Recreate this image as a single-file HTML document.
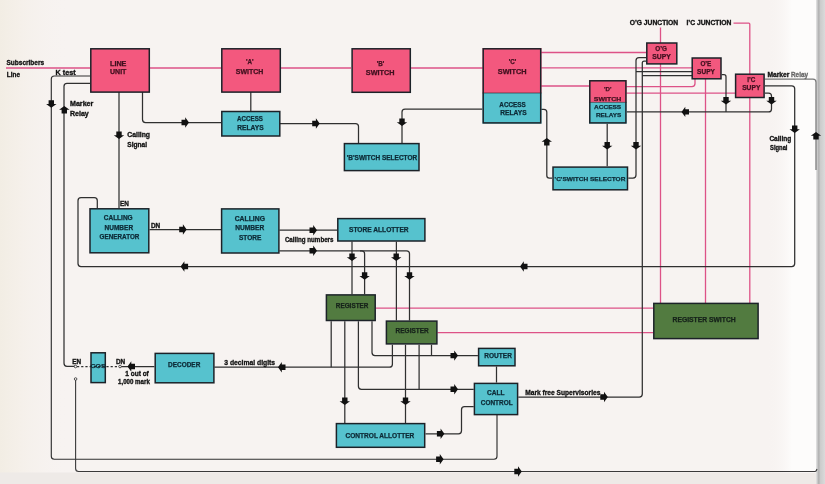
<!DOCTYPE html>
<html><head><meta charset="utf-8">
<style>
html,body{margin:0;padding:0;width:825px;height:484px;overflow:hidden;background:#f7f3f1}
svg{display:block;font-family:"Liberation Sans",sans-serif;will-change:transform}
</style></head><body>
<svg width="825" height="484" viewBox="0 0 825 484">
<defs>
<linearGradient id="edge" x1="0" y1="0" x2="1" y2="0">
<stop offset="0" stop-color="#f7f3f1" stop-opacity="0"/><stop offset="1" stop-color="#fdfcfb"/>
</linearGradient>
<linearGradient id="ledge" x1="0" y1="0" x2="1" y2="0">
<stop offset="0" stop-color="#f2ede4"/><stop offset="0.3" stop-color="#f5f0ea"/><stop offset="1" stop-color="#f7f3f1" stop-opacity="0"/>
</linearGradient>
<linearGradient id="shade" x1="0" y1="0" x2="1" y2="0">
<stop offset="0" stop-color="#e6e6e6"/><stop offset="0.3" stop-color="#b0b0b0"/><stop offset="0.5" stop-color="#cccccc"/><stop offset="1" stop-color="#dadada"/>
</linearGradient>
<path id="arr" d="M-7.5,-2.7 L-3.8,-2.7 L-3.8,-5.2 L0,0 L-3.8,5.2 L-3.8,2.7 L-7.5,2.7 Z" fill="#111"/>
</defs>
<rect width="825" height="484" fill="#f7f3f1"/>
<rect x="0" y="0" width="70" height="484" fill="url(#ledge)"/>
<rect x="0" y="472.5" width="817" height="11.5" fill="#eeeae7"/>
<rect x="768" y="0" width="24" height="472.5" fill="url(#edge)"/>
<rect x="791.5" y="0" width="27" height="472.5" fill="#fdfcfb"/>
<rect x="816" y="0" width="9" height="484" fill="url(#shade)"/>
<path d="M6.0,68.0 L90.0,68.0" stroke="#dd5287" stroke-width="1.30" fill="none" opacity="1.00"/>
<path d="M150.0,68.0 L221.0,68.0" stroke="#dd5287" stroke-width="1.30" fill="none" opacity="1.00"/>
<path d="M281.0,68.0 L351.0,68.0" stroke="#dd5287" stroke-width="1.30" fill="none" opacity="1.00"/>
<path d="M411.0,68.0 L483.0,68.0" stroke="#dd5287" stroke-width="1.30" fill="none" opacity="1.00"/>
<path d="M541.0,52.5 L646.0,52.5" stroke="#dd5287" stroke-width="1.30" fill="none" opacity="1.00"/>
<path d="M541.0,67.8 L692.0,67.8" stroke="#dd5287" stroke-width="1.30" fill="none" opacity="1.00"/>
<path d="M541.0,86.0 L589.0,86.0" stroke="#dd5287" stroke-width="1.30" fill="none" opacity="1.00"/>
<path d="M626.0,86.6 L692.0,86.6 Q695.0,86.6 695.0,83.6 L695.0,79.0" stroke="#dd5287" stroke-width="1.30" fill="none" opacity="1.00"/>
<path d="M626.0,93.2 L735.0,93.2" stroke="#dd5287" stroke-width="1.30" fill="none" opacity="1.00"/>
<path d="M660.5,27.5 L660.5,303.0" stroke="#dd5287" stroke-width="1.30" fill="none" opacity="1.00"/>
<path d="M705.5,79.0 L705.5,303.0" stroke="#dd5287" stroke-width="1.30" fill="none" opacity="1.00"/>
<path d="M733.5,23.2 L748.8,23.2 Q749.8,23.2 749.8,24.2 L749.8,303.0" stroke="#dd5287" stroke-width="1.30" fill="none" opacity="1.00"/>
<path d="M376.0,308.2 L653.0,308.2" stroke="#dd5287" stroke-width="1.30" fill="none" opacity="1.00"/>
<path d="M437.5,332.6 L653.0,332.6" stroke="#dd5287" stroke-width="1.30" fill="none" opacity="1.00"/>
<path d="M90.0,76.0 L54.3,76.0 Q51.3,76.0 51.3,79.0 L51.3,456.2 Q51.3,459.2 54.3,459.2 L494.0,459.2 Q497.0,459.2 497.0,456.2 L497.0,415.0" stroke="#303030" stroke-width="1.15" fill="none" opacity="1.00"/>
<path d="M90.0,83.3 L67.0,83.3 Q64.0,83.3 64.0,86.3 L64.0,363.3 Q64.0,366.3 67.0,366.3 L75.0,366.3" stroke="#303030" stroke-width="1.25" fill="none" opacity="1.00"/>
<path d="M119.0,92.0 L119.0,208.0" stroke="#303030" stroke-width="1.25" fill="none" opacity="1.00"/>
<path d="M142.5,92.0 L142.5,119.5 Q142.5,122.5 145.5,122.5 L221.0,122.5" stroke="#303030" stroke-width="1.25" fill="none" opacity="1.00"/>
<path d="M250.8,92.0 L250.8,111.0" stroke="#303030" stroke-width="1.25" fill="none" opacity="1.00"/>
<path d="M280.0,123.5 L355.5,123.5 Q358.5,123.5 358.5,126.5 L358.5,143.0" stroke="#303030" stroke-width="1.25" fill="none" opacity="1.00"/>
<path d="M482.5,109.0 L405.0,109.0 Q402.0,109.0 402.0,112.0 L402.0,143.0" stroke="#303030" stroke-width="1.25" fill="none" opacity="1.00"/>
<path d="M541.0,109.3 L543.9,109.3 Q546.8,109.3 546.8,112.2 L546.8,175.4 Q546.8,178.0 549.4,178.0 L552.0,178.0" stroke="#303030" stroke-width="1.25" fill="none" opacity="1.00"/>
<path d="M607.2,123.5 L607.2,166.3" stroke="#303030" stroke-width="1.25" fill="none" opacity="1.00"/>
<path d="M646.0,57.5 L639.0,57.5 Q636.0,57.5 636.0,60.5 L636.0,175.0 Q636.0,178.0 633.0,178.0 L628.3,178.0" stroke="#303030" stroke-width="1.25" fill="none" opacity="1.00"/>
<path d="M646.0,61.0 L644.1,61.0 Q642.3,61.0 642.3,62.9 L642.3,394.0 Q642.3,397.0 639.3,397.0 L518.3,397.0" stroke="#303030" stroke-width="1.25" fill="none" opacity="1.00"/>
<path d="M636.0,71.7 L692.0,71.7" stroke="#303030" stroke-width="1.25" fill="none" opacity="1.00"/>
<path d="M642.3,75.7 L692.0,75.7" stroke="#303030" stroke-width="1.25" fill="none" opacity="1.00"/>
<path d="M721.7,74.7 L723.9,74.7 Q726.0,74.7 726.0,76.8 L726.0,111.9" stroke="#303030" stroke-width="1.25" fill="none" opacity="1.00"/>
<path d="M626.6,111.9 L768.5,111.9 Q771.5,111.9 771.5,108.9 L771.5,96.0 Q771.5,93.0 768.5,93.0 L765.0,93.0" stroke="#303030" stroke-width="1.25" fill="none" opacity="1.00"/>
<path d="M765.0,85.8 L791.7,85.8 Q794.7,85.8 794.7,88.8 L794.7,263.5 Q794.7,266.5 791.7,266.5 L81.0,266.5 Q78.0,266.5 78.0,263.5 L78.0,200.7 Q78.0,197.7 81.0,197.7 L94.3,197.7 Q97.3,197.7 97.3,200.7 L97.3,208.0" stroke="#303030" stroke-width="1.25" fill="none" opacity="1.00"/>
<path d="M765.0,79.2 L813.0,79.2 Q816.0,79.2 816.0,82.2 L816.0,170.0" stroke="#777777" stroke-width="1.25" fill="none" opacity="1.00"/>
<path d="M149.5,229.5 L221.0,229.5" stroke="#303030" stroke-width="1.25" fill="none" opacity="1.00"/>
<path d="M279.4,230.2 L337.0,230.2" stroke="#303030" stroke-width="1.25" fill="none" opacity="1.00"/>
<path d="M279.4,250.8 L361.6,250.8 Q364.6,250.8 364.6,253.8 L364.6,294.2" stroke="#303030" stroke-width="1.25" fill="none" opacity="1.00"/>
<path d="M360.0,250.8 L406.5,250.8 Q409.5,250.8 409.5,253.8 L409.5,320.4" stroke="#303030" stroke-width="1.25" fill="none" opacity="1.00"/>
<path d="M352.0,241.6 L352.0,294.2" stroke="#303030" stroke-width="1.25" fill="none" opacity="1.00"/>
<path d="M396.4,241.6 L396.4,320.4" stroke="#303030" stroke-width="1.25" fill="none" opacity="1.00"/>
<path d="M331.2,321.2 L331.2,367.2" stroke="#303030" stroke-width="1.25" fill="none" opacity="1.00"/>
<path d="M344.8,321.2 L344.8,423.0" stroke="#303030" stroke-width="1.25" fill="none" opacity="1.00"/>
<path d="M358.4,321.2 L358.4,386.3 Q358.4,389.3 361.4,389.3 L473.7,389.3" stroke="#303030" stroke-width="1.25" fill="none" opacity="1.00"/>
<path d="M372.0,321.2 L372.0,352.6 Q372.0,355.6 375.0,355.6 L477.9,355.6" stroke="#303030" stroke-width="1.25" fill="none" opacity="1.00"/>
<path d="M392.4,344.7 L392.4,364.2 Q392.4,367.2 389.4,367.2 L214.4,367.2" stroke="#303030" stroke-width="1.25" fill="none" opacity="1.00"/>
<path d="M405.5,344.7 L405.5,423.0" stroke="#303030" stroke-width="1.25" fill="none" opacity="1.00"/>
<path d="M419.1,344.7 L419.1,389.3" stroke="#303030" stroke-width="1.25" fill="none" opacity="1.00"/>
<path d="M431.5,344.7 L431.5,355.6" stroke="#303030" stroke-width="1.25" fill="none" opacity="1.00"/>
<path d="M496.5,366.5 L496.5,382.6" stroke="#303030" stroke-width="1.25" fill="none" opacity="1.00"/>
<path d="M425.5,433.8 L458.5,433.8 Q461.5,433.8 461.5,430.8 L461.5,409.7 Q461.5,406.7 464.5,406.7 L473.7,406.7" stroke="#303030" stroke-width="1.25" fill="none" opacity="1.00"/>
<path d="M75.6,379.0 L75.6,468.5 Q75.6,471.5 78.6,471.5 L814.7,471.5 Q816.0,471.5 816.5,470.2 L817.0,469.0" stroke="#3a3a3a" stroke-width="1.10" fill="none" opacity="1.00"/>
<path d="M120.0,366.5 L154.4,366.5" stroke="#303030" stroke-width="1.25" fill="none" opacity="1.00"/>
<rect x="90.8" y="48.8" width="58.5" height="43.3" fill="#f3587e" stroke="#1c2228" stroke-width="1.5"/>
<rect x="221.8" y="48.8" width="58.5" height="43.3" fill="#f3587e" stroke="#1c2228" stroke-width="1.5"/>
<rect x="221.8" y="111.5" width="58.0" height="24.5" fill="#56c2ce" stroke="#1c2228" stroke-width="1.5"/>
<rect x="352.1" y="48.8" width="58.2" height="43.5" fill="#f3587e" stroke="#1c2228" stroke-width="1.5"/>
<rect x="482.5" y="48.0" width="59.0" height="45.0" fill="#f3587e"/>
<rect x="482.5" y="93.0" width="59.0" height="30.6" fill="#56c2ce"/>
<path d="M482.5,93.0 H541.5" stroke="#1c2228" stroke-width="1" opacity="0.6"/>
<rect x="483.2" y="48.8" width="57.5" height="74.1" fill="none" stroke="#1c2228" stroke-width="1.5"/>
<rect x="344.4" y="143.6" width="74.6" height="27.0" fill="#56c2ce" stroke="#1c2228" stroke-width="1.5"/>
<rect x="646.8" y="43.0" width="30.0" height="20.9" fill="#f3587e" stroke="#1c2228" stroke-width="1.5"/>
<rect x="692.2" y="58.0" width="28.8" height="20.8" fill="#f3587e" stroke="#1c2228" stroke-width="1.5"/>
<rect x="735.6" y="74.2" width="28.5" height="23.3" fill="#f3587e" stroke="#1c2228" stroke-width="1.5"/>
<rect x="589.0" y="80.0" width="37.6" height="22.4" fill="#f3587e"/>
<rect x="589.0" y="102.4" width="37.6" height="21.2" fill="#56c2ce"/>
<path d="M589.0,102.4 H626.6" stroke="#1c2228" stroke-width="1" opacity="0.6"/>
<rect x="589.8" y="80.8" width="36.1" height="42.1" fill="none" stroke="#1c2228" stroke-width="1.5"/>
<rect x="553.0" y="167.1" width="74.5" height="22.7" fill="#56c2ce" stroke="#1c2228" stroke-width="1.5"/>
<rect x="90.0" y="208.8" width="58.8" height="44.0" fill="#56c2ce" stroke="#1c2228" stroke-width="1.5"/>
<rect x="221.6" y="208.9" width="57.3" height="44.1" fill="#56c2ce" stroke="#1c2228" stroke-width="1.5"/>
<rect x="337.8" y="218.6" width="87.1" height="22.4" fill="#56c2ce" stroke="#1c2228" stroke-width="1.5"/>
<rect x="326.4" y="294.9" width="48.8" height="25.6" fill="#527b40" stroke="#1c2228" stroke-width="1.5"/>
<rect x="386.4" y="321.1" width="50.5" height="22.8" fill="#527b40" stroke="#1c2228" stroke-width="1.5"/>
<rect x="653.8" y="303.4" width="104.3" height="35.2" fill="#527b40" stroke="#1c2228" stroke-width="1.5"/>
<rect x="91.0" y="352.8" width="14.3" height="29.8" fill="#56c2ce" stroke="#1c2228" stroke-width="1.5"/>
<path d="M77,366.6 L118.5,366.6" stroke="#303030" stroke-width="1.2" stroke-dasharray="2.2,2" fill="none"/>
<rect x="155.2" y="353.4" width="58.7" height="29.4" fill="#56c2ce" stroke="#1c2228" stroke-width="1.5"/>
<rect x="478.6" y="348.4" width="36.4" height="17.4" fill="#56c2ce" stroke="#1c2228" stroke-width="1.5"/>
<rect x="474.4" y="383.4" width="43.2" height="31.2" fill="#56c2ce" stroke="#1c2228" stroke-width="1.5"/>
<rect x="336.4" y="423.6" width="88.3" height="23.7" fill="#56c2ce" stroke="#1c2228" stroke-width="1.5"/>
<use href="#arr" transform="translate(51.3,107.7) rotate(90)"/>
<use href="#arr" transform="translate(64.3,106.0) rotate(270)"/>
<use href="#arr" transform="translate(119.0,139.0) rotate(90)"/>
<use href="#arr" transform="translate(189.0,122.5) rotate(0)"/>
<use href="#arr" transform="translate(319.7,123.5) rotate(0)"/>
<use href="#arr" transform="translate(402.0,126.0) rotate(90)"/>
<use href="#arr" transform="translate(546.8,138.0) rotate(270)"/>
<use href="#arr" transform="translate(607.2,149.5) rotate(90)"/>
<use href="#arr" transform="translate(636.0,149.5) rotate(90)"/>
<use href="#arr" transform="translate(681.5,111.9) rotate(180)"/>
<use href="#arr" transform="translate(726.0,104.5) rotate(90)"/>
<use href="#arr" transform="translate(771.5,104.5) rotate(90)"/>
<use href="#arr" transform="translate(794.7,133.0) rotate(90)"/>
<use href="#arr" transform="translate(816.0,132.0) rotate(270)"/>
<use href="#arr" transform="translate(186.7,229.5) rotate(0)"/>
<use href="#arr" transform="translate(180.6,266.5) rotate(180)"/>
<use href="#arr" transform="translate(520.0,266.5) rotate(180)"/>
<use href="#arr" transform="translate(317.0,230.2) rotate(0)"/>
<use href="#arr" transform="translate(317.0,250.8) rotate(0)"/>
<use href="#arr" transform="translate(352.0,261.0) rotate(90)"/>
<use href="#arr" transform="translate(396.2,261.0) rotate(90)"/>
<use href="#arr" transform="translate(364.6,279.8) rotate(90)"/>
<use href="#arr" transform="translate(409.5,279.8) rotate(90)"/>
<use href="#arr" transform="translate(278.0,367.2) rotate(180)"/>
<use href="#arr" transform="translate(458.0,355.6) rotate(0)"/>
<use href="#arr" transform="translate(458.0,389.3) rotate(0)"/>
<use href="#arr" transform="translate(344.8,405.0) rotate(90)"/>
<use href="#arr" transform="translate(405.5,405.0) rotate(90)"/>
<use href="#arr" transform="translate(444.4,433.8) rotate(0)"/>
<use href="#arr" transform="translate(443.6,459.2) rotate(0)"/>
<use href="#arr" transform="translate(521.8,471.5) rotate(0)"/>
<use href="#arr" transform="translate(607.8,397.0) rotate(0)"/>
<use href="#arr" transform="translate(127.5,366.5) rotate(180)"/>
<text x="118.2" y="65.5" font-size="6.27" text-anchor="middle" font-weight="bold" fill="#42101f" stroke="#42101f" stroke-width="0.25" opacity="1.00" textLength="16.4" lengthAdjust="spacingAndGlyphs">LINE</text>
<text x="118.2" y="74.3" font-size="6.27" text-anchor="middle" font-weight="bold" fill="#42101f" stroke="#42101f" stroke-width="0.25" opacity="1.00" textLength="16.4" lengthAdjust="spacingAndGlyphs">UNIT</text>
<text x="249.8" y="64.3" font-size="6.27" text-anchor="middle" font-weight="bold" fill="#42101f" stroke="#42101f" stroke-width="0.25" opacity="1.00">'A'</text>
<text x="249.6" y="73.9" font-size="6.27" text-anchor="middle" font-weight="bold" fill="#42101f" stroke="#42101f" stroke-width="0.25" opacity="1.00" textLength="27.6" lengthAdjust="spacingAndGlyphs">SWITCH</text>
<text x="250.0" y="120.8" font-size="6.27" text-anchor="middle" font-weight="bold" fill="#0d2a36" stroke="#0d2a36" stroke-width="0.25" opacity="1.00" textLength="25.8" lengthAdjust="spacingAndGlyphs">ACCESS</text>
<text x="250.5" y="130.0" font-size="6.27" text-anchor="middle" font-weight="bold" fill="#0d2a36" stroke="#0d2a36" stroke-width="0.25" opacity="1.00" textLength="26.4" lengthAdjust="spacingAndGlyphs">RELAYS</text>
<text x="380.4" y="65.9" font-size="6.27" text-anchor="middle" font-weight="bold" fill="#42101f" stroke="#42101f" stroke-width="0.25" opacity="1.00">'B'</text>
<text x="380.1" y="75.2" font-size="6.27" text-anchor="middle" font-weight="bold" fill="#42101f" stroke="#42101f" stroke-width="0.25" opacity="1.00" textLength="28.6" lengthAdjust="spacingAndGlyphs">SWITCH</text>
<text x="512.5" y="63.8" font-size="6.27" text-anchor="middle" font-weight="bold" fill="#42101f" stroke="#42101f" stroke-width="0.25" opacity="1.00">'C'</text>
<text x="512.2" y="73.7" font-size="6.27" text-anchor="middle" font-weight="bold" fill="#42101f" stroke="#42101f" stroke-width="0.25" opacity="1.00" textLength="28.9" lengthAdjust="spacingAndGlyphs">SWITCH</text>
<text x="512.6" y="106.5" font-size="6.27" text-anchor="middle" font-weight="bold" fill="#0d2a36" stroke="#0d2a36" stroke-width="0.25" opacity="1.00" textLength="26.5" lengthAdjust="spacingAndGlyphs">ACCESS</text>
<text x="513.5" y="115.4" font-size="6.27" text-anchor="middle" font-weight="bold" fill="#0d2a36" stroke="#0d2a36" stroke-width="0.25" opacity="1.00" textLength="26.4" lengthAdjust="spacingAndGlyphs">RELAYS</text>
<text x="382.0" y="159.8" font-size="6.27" text-anchor="middle" font-weight="bold" fill="#0d2a36" stroke="#0d2a36" stroke-width="0.25" opacity="1.00" textLength="70.4" lengthAdjust="spacingAndGlyphs">'B'SWITCH  SELECTOR</text>
<text x="661.2" y="50.5" font-size="6.37" text-anchor="middle" font-weight="bold" fill="#42101f" stroke="#42101f" stroke-width="0.25" opacity="1.00">O’G</text>
<text x="661.6" y="58.8" font-size="6.37" text-anchor="middle" font-weight="bold" fill="#42101f" stroke="#42101f" stroke-width="0.25" opacity="1.00" textLength="18.6" lengthAdjust="spacingAndGlyphs">SUPY</text>
<text x="705.9" y="65.5" font-size="6.37" text-anchor="middle" font-weight="bold" fill="#42101f" stroke="#42101f" stroke-width="0.25" opacity="1.00">O’E</text>
<text x="706.0" y="73.5" font-size="6.37" text-anchor="middle" font-weight="bold" fill="#42101f" stroke="#42101f" stroke-width="0.25" opacity="1.00" textLength="17.8" lengthAdjust="spacingAndGlyphs">SUPY</text>
<text x="751.3" y="81.9" font-size="6.37" text-anchor="middle" font-weight="bold" fill="#42101f" stroke="#42101f" stroke-width="0.25" opacity="1.00">I’C</text>
<text x="751.3" y="90.2" font-size="6.37" text-anchor="middle" font-weight="bold" fill="#42101f" stroke="#42101f" stroke-width="0.25" opacity="1.00" textLength="18.3" lengthAdjust="spacingAndGlyphs">SUPY</text>
<text x="607.8" y="90.7" font-size="6.17" text-anchor="middle" font-weight="bold" fill="#42101f" stroke="#42101f" stroke-width="0.25" opacity="1.00">'D'</text>
<text x="607.5" y="100.7" font-size="6.17" text-anchor="middle" font-weight="bold" fill="#42101f" stroke="#42101f" stroke-width="0.25" opacity="1.00" textLength="27.4" lengthAdjust="spacingAndGlyphs">SWITCH</text>
<text x="607.6" y="109.3" font-size="6.17" text-anchor="middle" font-weight="bold" fill="#0d2a36" stroke="#0d2a36" stroke-width="0.25" opacity="1.00" textLength="27.2" lengthAdjust="spacingAndGlyphs">ACCESS</text>
<text x="608.6" y="116.7" font-size="6.17" text-anchor="middle" font-weight="bold" fill="#0d2a36" stroke="#0d2a36" stroke-width="0.25" opacity="1.00" textLength="25.3" lengthAdjust="spacingAndGlyphs">RELAYS</text>
<text x="590.0" y="180.7" font-size="6.08" text-anchor="middle" font-weight="bold" fill="#0d2a36" stroke="#0d2a36" stroke-width="0.25" opacity="1.00" textLength="70.8" lengthAdjust="spacingAndGlyphs">'C'SWITCH SELECTOR</text>
<text x="118.2" y="220.2" font-size="6.27" text-anchor="middle" font-weight="bold" fill="#0d2a36" stroke="#0d2a36" stroke-width="0.25" opacity="1.00" textLength="28.9" lengthAdjust="spacingAndGlyphs">CALLING</text>
<text x="118.8" y="229.9" font-size="6.27" text-anchor="middle" font-weight="bold" fill="#0d2a36" stroke="#0d2a36" stroke-width="0.25" opacity="1.00" textLength="28.6" lengthAdjust="spacingAndGlyphs">NUMBER</text>
<text x="119.5" y="239.1" font-size="6.27" text-anchor="middle" font-weight="bold" fill="#0d2a36" stroke="#0d2a36" stroke-width="0.25" opacity="1.00" textLength="39.8" lengthAdjust="spacingAndGlyphs">GENERATOR</text>
<text x="249.8" y="220.7" font-size="6.27" text-anchor="middle" font-weight="bold" fill="#0d2a36" stroke="#0d2a36" stroke-width="0.25" opacity="1.00" textLength="30.3" lengthAdjust="spacingAndGlyphs">CALLING</text>
<text x="249.7" y="229.8" font-size="6.27" text-anchor="middle" font-weight="bold" fill="#0d2a36" stroke="#0d2a36" stroke-width="0.25" opacity="1.00" textLength="29.1" lengthAdjust="spacingAndGlyphs">NUMBER</text>
<text x="250.2" y="239.9" font-size="6.27" text-anchor="middle" font-weight="bold" fill="#0d2a36" stroke="#0d2a36" stroke-width="0.25" opacity="1.00" textLength="22.4" lengthAdjust="spacingAndGlyphs">STORE</text>
<text x="378.8" y="232.3" font-size="6.27" text-anchor="middle" font-weight="bold" fill="#0d2a36" stroke="#0d2a36" stroke-width="0.25" opacity="1.00" textLength="59.6" lengthAdjust="spacingAndGlyphs">STORE  ALLOTTER</text>
<text x="352.1" y="307.6" font-size="6.27" text-anchor="middle" font-weight="bold" fill="#16221a" stroke="#16221a" stroke-width="0.25" opacity="1.00" textLength="32.5" lengthAdjust="spacingAndGlyphs">REGISTER</text>
<text x="412.2" y="333.0" font-size="6.27" text-anchor="middle" font-weight="bold" fill="#16221a" stroke="#16221a" stroke-width="0.25" opacity="1.00" textLength="33.2" lengthAdjust="spacingAndGlyphs">REGISTER</text>
<text x="704.1" y="322.0" font-size="6.27" text-anchor="middle" font-weight="bold" fill="#16221a" stroke="#16221a" stroke-width="0.25" opacity="1.00" textLength="63.1" lengthAdjust="spacingAndGlyphs">REGISTER  SWITCH</text>
<text x="98.0" y="368.1" font-size="5.88" text-anchor="middle" font-weight="bold" fill="#0d2a36" stroke="#0d2a36" stroke-width="0.25" opacity="1.00" textLength="15.0" lengthAdjust="spacingAndGlyphs">COS</text>
<text x="184.2" y="367.3" font-size="6.27" text-anchor="middle" font-weight="bold" fill="#0d2a36" stroke="#0d2a36" stroke-width="0.25" opacity="1.00" textLength="32.3" lengthAdjust="spacingAndGlyphs">DECODER</text>
<text x="498.1" y="358.2" font-size="6.27" text-anchor="middle" font-weight="bold" fill="#0d2a36" stroke="#0d2a36" stroke-width="0.25" opacity="1.00" textLength="27.6" lengthAdjust="spacingAndGlyphs">ROUTER</text>
<text x="495.8" y="394.6" font-size="6.27" text-anchor="middle" font-weight="bold" fill="#0d2a36" stroke="#0d2a36" stroke-width="0.25" opacity="1.00" textLength="17.5" lengthAdjust="spacingAndGlyphs">CALL</text>
<text x="496.7" y="404.7" font-size="6.27" text-anchor="middle" font-weight="bold" fill="#0d2a36" stroke="#0d2a36" stroke-width="0.25" opacity="1.00" textLength="31.8" lengthAdjust="spacingAndGlyphs">CONTROL</text>
<text x="379.9" y="438.3" font-size="6.27" text-anchor="middle" font-weight="bold" fill="#0d2a36" stroke="#0d2a36" stroke-width="0.25" opacity="1.00" textLength="68.8" lengthAdjust="spacingAndGlyphs">CONTROL  ALLOTTER</text>
<text x="6.5" y="65.0" font-size="6.40" text-anchor="start" font-weight="bold" fill="#111111" stroke="#111111" stroke-width="0.30" opacity="1.00" textLength="37.6" lengthAdjust="spacingAndGlyphs">Subscribers</text>
<text x="6.8" y="76.8" font-size="6.40" text-anchor="start" font-weight="bold" fill="#111111" stroke="#111111" stroke-width="0.30" opacity="1.00">Line</text>
<text x="55.6" y="74.8" font-size="6.40" text-anchor="start" font-weight="bold" fill="#111111" stroke="#111111" stroke-width="0.30" opacity="1.00" textLength="20.0" lengthAdjust="spacingAndGlyphs">K  test</text>
<text x="70.0" y="106.3" font-size="6.40" text-anchor="start" font-weight="bold" fill="#111111" stroke="#111111" stroke-width="0.30" opacity="1.00" textLength="23.3" lengthAdjust="spacingAndGlyphs">Marker</text>
<text x="70.0" y="115.6" font-size="6.40" text-anchor="start" font-weight="bold" fill="#111111" stroke="#111111" stroke-width="0.30" opacity="1.00" textLength="18.8" lengthAdjust="spacingAndGlyphs">Relay</text>
<text x="127.3" y="137.3" font-size="6.40" text-anchor="start" font-weight="bold" fill="#111111" stroke="#111111" stroke-width="0.30" opacity="1.00" textLength="22.7" lengthAdjust="spacingAndGlyphs">Calling</text>
<text x="127.3" y="147.3" font-size="6.40" text-anchor="start" font-weight="bold" fill="#111111" stroke="#111111" stroke-width="0.30" opacity="1.00" textLength="19.8" lengthAdjust="spacingAndGlyphs">Signal</text>
<text x="120.0" y="205.6" font-size="6.40" text-anchor="start" font-weight="bold" fill="#111111" stroke="#111111" stroke-width="0.30" opacity="1.00">EN</text>
<text x="151.0" y="227.5" font-size="6.40" text-anchor="start" font-weight="bold" fill="#111111" stroke="#111111" stroke-width="0.30" opacity="1.00">DN</text>
<text x="284.9" y="242.4" font-size="6.40" text-anchor="start" font-weight="bold" fill="#111111" stroke="#111111" stroke-width="0.30" opacity="1.00" textLength="48.6" lengthAdjust="spacingAndGlyphs">Calling numbers</text>
<text x="629.7" y="25.3" font-size="6.40" text-anchor="start" font-weight="bold" fill="#111111" stroke="#111111" stroke-width="0.30" opacity="1.00" textLength="48.5" lengthAdjust="spacingAndGlyphs">O’G JUNCTION</text>
<text x="686.5" y="25.3" font-size="6.40" text-anchor="start" font-weight="bold" fill="#111111" stroke="#111111" stroke-width="0.30" opacity="1.00" textLength="44.9" lengthAdjust="spacingAndGlyphs">I’C JUNCTION</text>
<text x="767.4" y="76.8" font-size="6.40" text-anchor="start" font-weight="bold" fill="#111111" stroke="#111111" stroke-width="0.30" opacity="1.00" textLength="22.0" lengthAdjust="spacingAndGlyphs">Marker</text>
<text x="791.0" y="76.8" font-size="6.40" text-anchor="start" font-weight="bold" fill="#666" stroke="#666" stroke-width="0.30" opacity="1.00" textLength="17.0" lengthAdjust="spacingAndGlyphs">Relay</text>
<text x="769.4" y="141.3" font-size="6.40" text-anchor="start" font-weight="bold" fill="#111111" stroke="#111111" stroke-width="0.30" opacity="1.00" textLength="21.8" lengthAdjust="spacingAndGlyphs">Calling</text>
<text x="770.0" y="150.1" font-size="6.40" text-anchor="start" font-weight="bold" fill="#111111" stroke="#111111" stroke-width="0.30" opacity="1.00" textLength="17.5" lengthAdjust="spacingAndGlyphs">Signal</text>
<text x="72.2" y="363.6" font-size="6.40" text-anchor="start" font-weight="bold" fill="#111111" stroke="#111111" stroke-width="0.30" opacity="1.00">EN</text>
<text x="115.9" y="363.6" font-size="6.40" text-anchor="start" font-weight="bold" fill="#111111" stroke="#111111" stroke-width="0.30" opacity="1.00">DN</text>
<text x="125.3" y="376.3" font-size="6.40" text-anchor="start" font-weight="bold" fill="#111111" stroke="#111111" stroke-width="0.30" opacity="1.00" textLength="23.5" lengthAdjust="spacingAndGlyphs">1 out of</text>
<text x="118.0" y="383.5" font-size="6.40" text-anchor="start" font-weight="bold" fill="#111111" stroke="#111111" stroke-width="0.30" opacity="1.00" textLength="31.8" lengthAdjust="spacingAndGlyphs">1,000 mark</text>
<text x="224.3" y="364.7" font-size="6.40" text-anchor="start" font-weight="bold" fill="#111111" stroke="#111111" stroke-width="0.30" opacity="1.00" textLength="50.8" lengthAdjust="spacingAndGlyphs">3  decimal digits</text>
<text x="525.2" y="394.8" font-size="6.40" text-anchor="start" font-weight="bold" fill="#111111" stroke="#111111" stroke-width="0.30" opacity="1.00" textLength="75.2" lengthAdjust="spacingAndGlyphs">Mark free Supervisories</text>
<circle cx="75.5" cy="366.5" r="1.3" fill="#f7f3f1" stroke="#303030" stroke-width="0.8"/>
<circle cx="75.6" cy="379" r="1.3" fill="#f7f3f1" stroke="#303030" stroke-width="0.8"/>
<circle cx="120" cy="366.5" r="1.3" fill="#f7f3f1" stroke="#303030" stroke-width="0.8"/>
</svg>
</body></html>
